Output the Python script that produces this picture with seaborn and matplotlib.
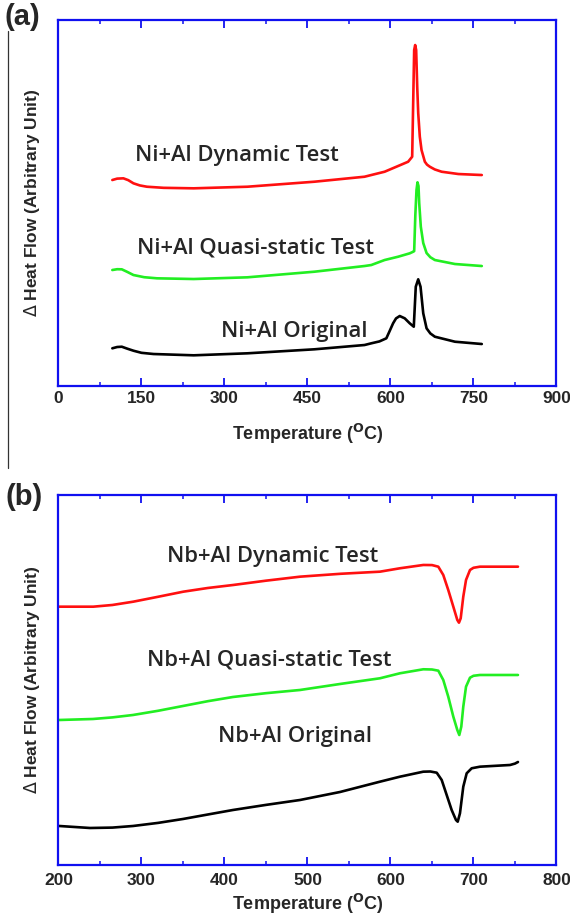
import matplotlib
matplotlib.use("Agg")
import matplotlib.pyplot as plt
from matplotlib.lines import Line2D
from matplotlib.ticker import MultipleLocator
import seaborn as sns

# ---- (a) Ni+Al DSC curves: temperature (°C) and heat flow (arbitrary units)
ni_dyn_T = [97.3, 106.0, 117.3, 126.0, 135.5, 147.0, 159.8, 190.0, 244.4, 341.4, 462.3, 553.1,
            565.3, 589.4, 610.7, 631.9, 639.2, 641.0, 642.8, 644.6, 646.4, 648.3, 650.1, 653.0,
            656.1, 662.1, 666.0, 671.1, 680.0, 692.4, 722.7, 765.0]
ni_dyn_H = [205.6, 207.0, 207.3, 205.5, 202.3, 200.2, 198.9, 197.8, 197.3, 198.9, 203.9, 208.9,
            210.6, 213.9, 218.9, 223.9, 228.9, 282.6, 335.6, 340.6, 335.6, 298.9, 272.6, 248.9,
            235.6, 223.9, 221.0, 218.9, 216.2, 213.9, 211.6, 210.6]

ni_qs_T = [97.3, 106.0, 114.4, 124.0, 135.5, 155.0, 178.0, 244.4, 341.4, 462.3, 553.1, 565.3,
           589.4, 613.8, 634.8, 641.0, 642.8, 644.9, 647.0, 648.8, 650.6, 651.9, 654.8, 659.2,
           665.2, 672.0, 680.2, 716.5, 765.0]
ni_qs_H = [115.6, 116.4, 116.3, 113.8, 110.6, 108.4, 107.3, 106.6, 108.3, 113.9, 119.6, 120.6,
           125.6, 128.9, 132.3, 133.9, 134.5, 170.6, 195.6, 203.3, 199.6, 182.6, 158.9, 142.6,
           132.6, 128.4, 125.6, 121.6, 119.6]

ni_org_T = [97.3, 106.0, 114.4, 124.0, 135.5, 150.0, 171.8, 244.4, 341.4, 462.3, 553.1, 565.3,
            580.0, 592.5, 598.0, 604.7, 610.0, 616.7, 625.7, 634.8, 642.1, 645.7, 650.1, 654.3,
            659.2, 665.2, 672.0, 680.2, 716.5, 765.0]
ni_org_H = [37.3, 38.6, 38.9, 37.0, 34.9, 32.8, 31.6, 30.3, 32.3, 36.3, 40.6, 42.3,
            44.2, 47.3, 54.0, 62.3, 67.2, 69.6, 67.3, 62.3, 58.9, 98.9, 106.3, 98.9,
            72.3, 57.3, 52.2, 48.9, 43.9, 41.6]

# ---- (b) Nb+Al DSC curves
nb_dyn_T = [201.0, 241.9, 265.0, 290.1, 320.0, 350.4, 380.0, 410.6, 450.0, 491.0, 540.0, 587.3,
            611.4, 639.5, 650.0, 657.6, 663.6, 669.6, 675.7, 680.5, 682.5, 684.6, 687.7, 691.0,
            695.8, 700.0, 707.8, 744.0, 753.6]
nb_dyn_H = [257.9, 257.9, 259.6, 262.9, 267.8, 272.9, 276.6, 279.6, 283.9, 287.9, 290.8, 292.9,
            296.3, 299.6, 299.5, 297.9, 289.6, 274.6, 257.9, 244.6, 241.9, 246.3, 267.9, 284.6,
            294.6, 296.8, 297.9, 297.9, 297.9]

nb_qs_T = [201.0, 241.6, 265.0, 289.8, 320.0, 350.0, 380.0, 410.2, 450.0, 491.0, 539.2, 587.3,
           611.4, 639.5, 650.0, 657.6, 663.6, 669.6, 675.7, 680.5, 682.9, 685.3, 687.7, 691.0,
           695.8, 700.0, 707.8, 744.0, 753.6]
nb_qs_H = [144.6, 145.6, 147.2, 149.6, 153.8, 158.6, 163.4, 167.6, 171.4, 174.6, 180.6, 186.3,
           191.3, 195.3, 195.1, 193.9, 184.6, 167.9, 147.9, 134.6, 129.6, 137.9, 157.9, 177.9,
           186.9, 188.8, 189.6, 189.6, 189.6]

nb_org_T = [201.0, 238.0, 265.0, 289.8, 320.0, 350.0, 380.0, 410.2, 450.0, 491.0, 539.2, 587.3,
            611.4, 639.5, 648.0, 655.7, 661.7, 667.7, 673.7, 678.9, 681.0, 683.7, 687.7, 691.8,
            697.8, 707.8, 744.0, 750.0, 753.6]
nb_org_H = [38.6, 36.6, 37.0, 38.6, 41.7, 45.6, 50.1, 54.6, 59.7, 64.6, 72.6, 82.9,
            87.9, 92.9, 93.1, 91.9, 84.6, 69.6, 54.6, 44.6, 42.9, 51.3, 77.9, 91.3,
            96.3, 97.9, 99.6, 101.0, 102.6]

labels_a = ["Ni+Al Dynamic Test", "Ni+Al Quasi-static Test", "Ni+Al Original"]
labels_b = ["Nb+Al Dynamic Test", "Nb+Al Quasi-static Test", "Nb+Al Original"]
xticks_a = [0, 150, 300, 450, 600, 750, 900]
xticks_b = [200, 300, 400, 500, 600, 700, 800]

RED, GREEN, BLACK, BLUE = "#ff1010", "#22ee22", "#000000", "#1010f0"

sns.set_style("white")
plt.rcParams["font.family"] = ["Liberation Sans", "DejaVu Sans"]

fig = plt.figure(figsize=(5.70, 9.19), dpi=100)
ax_a = fig.add_axes([0.1026, 0.5804, 0.8737, 0.3978])
ax_b = fig.add_axes([0.1026, 0.0592, 0.8737, 0.4022])


def style_axes(ax, ticks, minor, ylim, tick_pad, label_pad):
    ax.set_xlim(ticks[0], ticks[-1])
    ax.set_ylim(*ylim)
    ax.set_xticks(ticks)
    ax.xaxis.set_minor_locator(MultipleLocator(minor))
    ax.set_yticks([])
    for s in ax.spines.values():
        s.set_color(BLUE)
        s.set_linewidth(1.6)
        s.set_visible(True)
    ax.tick_params(axis="x", which="major", direction="in", length=6, width=1.3,
                   color=BLUE, top=True, bottom=True, pad=tick_pad, labelsize=12.5)
    ax.tick_params(axis="x", which="minor", direction="in", length=3, width=1.1,
                   color=BLUE, top=True, bottom=True)
    for lab in ax.get_xticklabels():
        lab.set_fontweight("bold")
    ax.set_xlabel("Temperature ($\\mathbf{^{O}}$C)", fontsize=13, fontweight="bold",
                  labelpad=label_pad)
    ax.set_ylabel("$\\Delta$ Heat Flow (Arbitrary Unit)", fontsize=12.5, fontweight="bold",
                  labelpad=12)
    ax.grid(False)


LW = 1.9
sns.lineplot(x=ni_dyn_T, y=ni_dyn_H, ax=ax_a, color=RED, lw=LW, sort=False)
sns.lineplot(x=ni_qs_T, y=ni_qs_H, ax=ax_a, color=GREEN, lw=LW, sort=False)
sns.lineplot(x=ni_org_T, y=ni_org_H, ax=ax_a, color=BLACK, lw=LW, sort=False)
style_axes(ax_a, xticks_a, 75, (0, 365.6), tick_pad=4, label_pad=11)

sns.lineplot(x=nb_dyn_T, y=nb_dyn_H, ax=ax_b, color=RED, lw=LW, sort=False)
sns.lineplot(x=nb_qs_T, y=nb_qs_H, ax=ax_b, color=GREEN, lw=LW, sort=False)
sns.lineplot(x=nb_org_T, y=nb_org_H, ax=ax_b, color=BLACK, lw=LW, sort=False)
style_axes(ax_b, xticks_b, 50, (0, 369.6), tick_pad=6, label_pad=3)

txt = dict(fontsize=15.8, family=["Open Sans", "DejaVu Sans"], fontweight="semibold",
           ha="left", va="center")
for (x, y), s in zip([(138.5, 230.6), (141.6, 137.6), (293.0, 54.6)], labels_a):
    ax_a.text(x, y, s, **txt)
for (x, y), s in zip([(330.4, 307.6), (306.6, 204.6), (392.0, 127.6)], labels_b):
    ax_b.text(x, y, s, **txt)

fig.text(0.008, 0.981, "(a)", fontsize=21, fontweight="bold", ha="left", va="center")
fig.text(0.010, 0.459, "(b)", fontsize=21, fontweight="bold", ha="left", va="center")

# thin rule along the left side of panel (a)
fig.add_artist(Line2D([0.0145, 0.0145], [1 - 31 / 919, 1 - 468 / 919],
                      transform=fig.transFigure, color="#333333", lw=0.9))

fig.savefig("out.png", dpi=100)
